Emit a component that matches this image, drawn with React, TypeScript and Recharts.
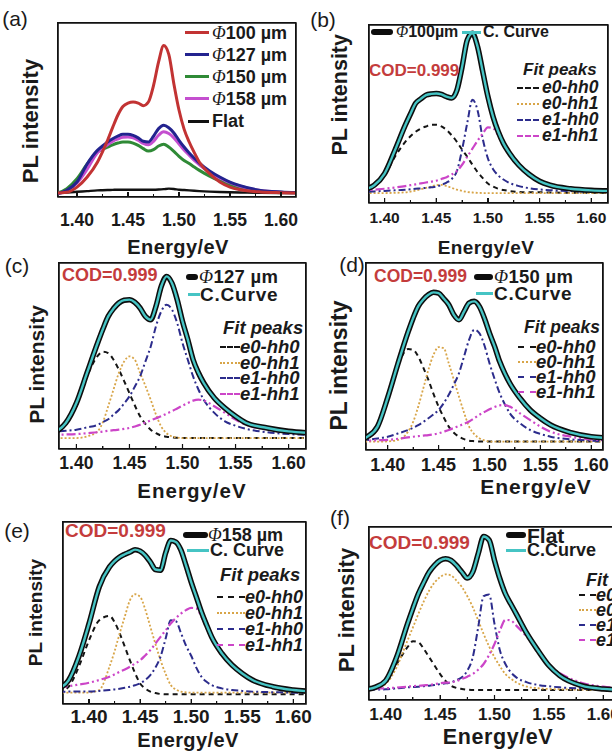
import React from 'react';
import { LineChart, Line, XAxis, YAxis, ReferenceArea, ReferenceLine } from 'recharts';

// photon energy grid (eV), shared by every panel
const ENERGY = [1.37, 1.38, 1.39, 1.40, 1.41, 1.42, 1.425, 1.43, 1.435, 1.44, 1.445, 1.45, 1.455, 1.46, 1.465, 1.47, 1.475, 1.48, 1.485, 1.49, 1.495, 1.50, 1.505, 1.51, 1.515, 1.52, 1.53, 1.54, 1.55, 1.56, 1.58, 1.60, 1.62];
const MAJOR_TICKS = [1.40, 1.45, 1.50, 1.55, 1.60];
const MINOR_TICKS = [1.425, 1.475, 1.525, 1.575];

// (a) PL spectra, arb. units (0-100 of the frame height)
const A_D100 = [2.3, 2.3, 2.7, 5.7, 11.5, 20, 26, 32.6, 40, 47, 52, 54, 54.6, 54, 52.5, 54.6, 64, 77.6, 87, 82, 65, 50, 39, 31.6, 25.5, 20, 13.4, 8.6, 5.7, 4.2, 2.9, 2.5, 2.3];
const A_D127 = [1.5, 1.9, 3.8, 8.6, 19, 26.8, 29.3, 31.6, 33.5, 35, 36, 36, 35.4, 34, 32, 31.6, 34.9, 39.3, 41.2, 39.8, 36.8, 32.6, 28.7, 25.3, 22.3, 19.5, 15, 11.5, 8.6, 6.5, 3.8, 2.9, 2.5];
const A_D150 = [1.8, 2.3, 4.8, 10.5, 19, 25.9, 27.4, 28.7, 30, 31, 31.6, 31.6, 31, 29.7, 27.8, 26.4, 27.2, 29.3, 30.3, 28.7, 26.2, 23.4, 21, 19.2, 17.2, 15.3, 12, 9.2, 7, 5.5, 3.6, 2.7, 2.3];
const A_D158 = [1.5, 1.9, 3.6, 8, 16, 25.5, 28, 30, 32, 33.3, 34.3, 34.5, 34, 32.6, 30.8, 30, 32, 35.5, 37.5, 36.5, 34, 30.5, 27, 24, 21, 18.5, 14.2, 11, 8.2, 6.2, 3.7, 2.8, 2.4];
const A_FLAT = [2.3, 2.3, 2.6, 3, 3.4, 3.8, 3.9, 4, 4.1, 4.2, 4.2, 4.2, 4.2, 4.2, 4.2, 4.2, 4.2, 4.3, 4.5, 4.8, 4.6, 4.2, 4, 3.8, 3.6, 3.4, 3.1, 2.9, 2.7, 2.6, 2.4, 2.3, 2.3];

// (b) 100 um
const B_DATA = [6.5, 7.5, 10, 16.5, 29.6, 43.7, 50, 56, 58.5, 60.6, 61.3, 61.5, 61, 59.7, 59, 63.4, 76.5, 91.6, 95.3, 87.8, 73.7, 59.7, 48.4, 40, 33.5, 28.7, 21.2, 16, 12.2, 10, 8, 7.1, 6.8];
const B_E0H0 = [6.5, 7.5, 10, 15.6, 26, 34.3, 37.5, 40, 41.8, 43, 44, 44, 43, 41, 38, 34.3, 30, 26, 21.5, 17.4, 14, 10.9, 9.2, 8, 7.3, 6.8, 6.2, 6, 6, 5.9, 5.8, 5.8, 5.8];
const B_E0H1 = [5.6, 5.6, 5.6, 5.6, 5.7, 6, 6.4, 7, 7.7, 8.5, 9.3, 10, 10.2, 9.5, 8.5, 7.5, 6.8, 6.2, 5.9, 5.7, 5.6, 5.6, 5.6, 5.6, 5.6, 5.6, 5.6, 5.6, 5.6, 5.6, 5.6, 5.6, 5.6];
const B_E1H0 = [6, 6.2, 6.5, 6.8, 7.1, 7.5, 7.7, 8, 8.2, 8.5, 8.8, 9.2, 10.2, 11.5, 13.5, 18, 30, 45, 58, 52, 36, 25, 19, 15.5, 13.2, 11.5, 9.5, 8.3, 7.6, 7.2, 6.7, 6.4, 6.2];
const B_E1H1 = [6.7, 7, 7.5, 8, 8.7, 9.5, 10, 10.5, 11, 11.5, 12, 12.5, 13.5, 14.5, 16, 18, 21.5, 26, 30.5, 35, 39, 42.5, 42, 38, 33, 28, 20.5, 15.5, 12, 10, 8, 7.1, 6.8];

// (c) 127 um
const C_DATA = [6.5, 9, 14, 24.7, 40.9, 57, 64.5, 71.3, 75.5, 78.5, 80, 80.3, 78.9, 75.8, 71.3, 69.5, 76.7, 87.5, 92.8, 89.2, 80.3, 68.6, 58.8, 48, 41, 35.5, 27.4, 22, 17.6, 14, 11.3, 9.5, 8.6];
const C_E0H0 = [6.5, 9, 14, 23, 39, 50, 52.3, 51.6, 48, 42.7, 36.5, 30, 23.5, 17.6, 13.5, 10.4, 8.5, 7.2, 6.6, 6.3, 6, 5.9, 5.9, 5.9, 5.9, 5.9, 5.9, 5.9, 5.9, 5.9, 5.9, 5.9, 5.9];
const C_E0H1 = [5.9, 5.9, 5.9, 5.9, 6.8, 9.5, 14.5, 23, 32, 40.9, 47, 49.8, 48, 40.9, 34, 26.5, 18.5, 12, 8.5, 6.8, 6.2, 5.9, 5.9, 5.9, 5.9, 5.9, 5.9, 5.9, 5.9, 5.9, 5.9, 5.9, 5.9];
const C_E1H0 = [9.2, 9.5, 9.8, 10.4, 11.6, 13, 14.5, 16, 18.5, 21, 24.5, 28.3, 33.5, 39, 47, 55, 66, 74, 77.6, 75, 67.7, 57, 48, 39, 32, 26.5, 19.4, 14.9, 12.5, 10.8, 9, 8, 7.5];
const C_E1H1 = [7.6, 7.7, 7.8, 8, 8.5, 9, 9.4, 9.8, 10.1, 10.4, 10.8, 11.3, 12.1, 13, 14.2, 15.4, 16.5, 17.6, 19, 20.3, 21.8, 23.3, 24.7, 26, 26.5, 26, 23, 19.4, 15.8, 13, 10.4, 9, 8];

// (d) 150 um
const D_DATA = [5, 7.1, 12.5, 28, 46, 63, 70.5, 76.8, 80.5, 83, 84.3, 83.9, 81, 77.7, 72.3, 69.6, 74, 78.6, 79.5, 76.8, 70.5, 62.5, 55.4, 47.3, 41, 35.7, 27.7, 21.4, 17, 13.4, 9.3, 7.1, 6.3];
const D_E0H0 = [5, 7, 14, 27, 45, 54, 53.6, 50, 44, 37.5, 30, 23.2, 17.5, 12.5, 9.2, 7.1, 5.8, 5, 4.7, 4.5, 4.5, 4.5, 4.5, 4.5, 4.5, 4.5, 4.5, 4.5, 4.5, 4.5, 4.5, 4.5, 4.5];
const D_E0H1 = [4.5, 4.5, 4.5, 4.6, 5.4, 9.8, 15, 23.2, 33, 42.9, 50.9, 55, 54.5, 46.4, 37.5, 28.6, 20, 12.5, 8.5, 6.3, 5.2, 4.5, 4.5, 4.5, 4.5, 4.5, 4.5, 4.5, 4.5, 4.5, 4.5, 4.5, 4.5];
const D_E1H0 = [5, 5.4, 6.2, 7.1, 8.8, 10.7, 11.9, 13.3, 15, 17, 19, 21.4, 25, 29.5, 35, 41, 50, 59, 64.3, 62.5, 56, 46.4, 38, 30.4, 24.5, 19.6, 14.3, 10.7, 8.6, 7.1, 5.7, 5, 4.5];
const D_E1H1 = [4.8, 5, 5.2, 5.4, 6, 6.8, 7.1, 7.4, 7.7, 8, 8.4, 8.9, 9.8, 10.7, 11.8, 12.9, 14, 15.2, 17, 18.8, 20.3, 21.8, 23, 23.9, 24, 23.2, 19.6, 16, 12.5, 9.8, 7.1, 5.7, 5];

// (e) 158 um
const E_DATA = [8.5, 13, 26, 44.2, 64.4, 75.3, 78.5, 80.8, 82.3, 83.5, 84.8, 84, 81.7, 78, 73.9, 73.5, 83, 89.8, 89, 84.5, 76, 67, 58.9, 50.6, 43.5, 36.9, 27.8, 21.4, 16.8, 13.2, 9.5, 7.7, 6.8];
const E_E0H0 = [6.5, 9.5, 20.5, 35, 46, 48.4, 45, 38.8, 31.5, 24, 17, 11.3, 8.5, 6.8, 6, 5.5, 5.3, 5.3, 5.3, 5.3, 5.3, 5.3, 5.3, 5.3, 5.3, 5.3, 5.3, 5.3, 5.3, 5.3, 5.3, 5.3, 5.3];
const E_E0H1 = [6.2, 6.2, 6.2, 6.3, 7.7, 20.5, 29, 38.8, 48, 57, 60.3, 58.9, 52, 42.4, 33, 24, 16.5, 10.4, 8, 6.8, 6.4, 6.2, 6.2, 6.2, 6.2, 6.2, 6.2, 6.2, 6.2, 6.2, 6.2, 6.2, 6.2];
const E_E1H0 = [6.6, 6.8, 6.8, 6.9, 7.2, 7.7, 8, 8.4, 8.9, 9.5, 10.3, 11.3, 13.2, 15.9, 20, 26, 36, 46, 45.5, 39, 32, 26.5, 20, 15, 12.2, 10.4, 8.6, 7.7, 7.2, 6.8, 6.5, 6.2, 6.1];
const E_E1H1 = [9.3, 9.8, 10.7, 11.7, 13.2, 15, 16.3, 17.7, 19, 20.5, 22.2, 24, 26.7, 29.6, 33.2, 36.9, 40.5, 44.2, 47.2, 49.7, 51.6, 52.8, 52.5, 48, 42, 36, 27, 21, 16.5, 13, 9.3, 7.5, 6.8];

// (f) flat
const F_DATA = [5.5, 6, 7.3, 11.2, 24.7, 44, 53, 61.4, 68, 74, 78, 80.7, 81.7, 80.7, 77.8, 74, 70.5, 74, 84.5, 94.5, 92.5, 80.7, 70, 61.4, 55.5, 49.8, 38.2, 28.6, 19.9, 14.1, 8.3, 6.4, 5.8];
const F_E0H0 = [5.8, 6, 7.3, 11.2, 20.8, 30.5, 34, 33.4, 29.5, 24.7, 19.8, 15, 11, 8.3, 7, 6.4, 6, 5.8, 5.8, 5.8, 5.8, 5.8, 5.8, 5.8, 5.8, 5.8, 5.8, 5.8, 5.8, 5.8, 5.8, 5.8, 5.8];
const F_E0H1 = [5.8, 5.8, 6.4, 9.3, 18.9, 34.4, 42, 49.8, 57, 63.3, 68, 71, 72.6, 72, 69, 65.3, 60, 53.7, 46, 38.2, 31, 24.7, 19.5, 15, 12.3, 10.2, 7.7, 6.8, 6.4, 6.2, 6, 5.8, 5.8];
const F_E1H0 = [5.8, 5.8, 6, 6.2, 6.7, 7.3, 7.5, 7.7, 8, 8.3, 8.7, 9.2, 9.7, 10.2, 11.5, 13.1, 17, 24.7, 42, 60, 61, 44, 28.6, 20.8, 16, 13.1, 10.2, 8.7, 7.9, 7.3, 6.6, 6.2, 6];
const F_E1H1 = [6.2, 6.4, 6.6, 6.8, 7.2, 7.7, 8, 8.2, 8.5, 8.7, 9.2, 9.7, 10, 10.2, 11, 12.2, 13.5, 15, 17.5, 20.8, 26, 32.4, 40.2, 46.3, 46, 43, 36.3, 28, 20, 15.5, 10, 7.7, 6.8];

const FONT = 'Liberation Sans, Arial, sans-serif';
const SERIF = 'Liberation Serif, DejaVu Serif, serif';
const INK = '#1a1a1a';
const COD_RED = '#c43c3c';
const CYAN = '#46c4c4';
const FIT = {
  e0h0: { stroke: '#151515', width: 2, dash: '5 4' },
  e0h1: { stroke: '#d8a548', width: 1.8, dash: '2 2' },
  e1h0: { stroke: '#2c2c8c', width: 2, dash: '7 3 2 3' },
  e1h1: { stroke: '#cc45c8', width: 2.2, dash: '9 3 2 3 2 3' },
};
const PAD = 6;

type Series = { id: string; values: number[]; stroke: string; width: number; dash?: string };
type Box = { x: number; y: number; w: number; h: number };

const Panel = ({ box, domain, series, tickFs, tickGap }: { box: Box; domain: [number, number]; series: Series[]; tickFs: number; tickGap: number }) => {
  const rows = ENERGY.map((e, i) => {
    const r: any = { e };
    series.forEach((s) => { r[s.id] = s.values[i]; });
    return r;
  });
  const W = Math.round(box.w + 2 * PAD);
  const H = Math.round(box.h + PAD + 40);
  const L = Math.round(box.x - PAD);
  const T = Math.round(box.y - PAD);
  const fw = W - 2 * PAD;
  const fh = H - PAD - 40;
  const majLen = (5 * 100) / fh;
  const minLen = (3 * 100) / fh;
  // same linear mapping as the x axis, for the CSS frame ticks
  const px = (t: number) => PAD + ((t - domain[0]) / (domain[1] - domain[0])) * fw;
  return (
    <div style={{ position: 'absolute', left: L, top: T }}>
      <LineChart width={W} height={H} data={rows} margin={{ top: PAD, right: PAD, bottom: 0, left: PAD }}>
        <XAxis dataKey="e" type="number" domain={domain} allowDataOverflow ticks={MAJOR_TICKS} interval={0}
          tickFormatter={(v) => v.toFixed(2)} height={40} tickLine={false} tickSize={0} tickMargin={tickGap}
          axisLine={false} tick={{ fontSize: tickFs, fontWeight: 700, fill: INK, fontFamily: FONT }} />
        <YAxis type="number" domain={[0, 100]} allowDataOverflow hide />
        {series.map((s) => (
          <Line key={s.id} dataKey={s.id} type="monotone" stroke={s.stroke} strokeWidth={s.width}
            strokeDasharray={s.dash} dot={false} activeDot={false} isAnimationActive={false} />
        ))}
        {MAJOR_TICKS.map((t) => (
          <ReferenceLine key={`M${t}`} segment={[{ x: t, y: 0 }, { x: t, y: majLen }]} stroke="#111" strokeWidth={1.2} ifOverflow="visible" />
        ))}
        {MINOR_TICKS.map((t) => (
          <ReferenceLine key={`m${t}`} segment={[{ x: t, y: 0 }, { x: t, y: minLen }]} stroke="#111" strokeWidth={1} ifOverflow="visible" />
        ))}
        <ReferenceArea x1={domain[0]} x2={domain[1]} y1={0} y2={100} fill="none" stroke="#111" strokeWidth={1.6} ifOverflow="visible" />
      </LineChart>
      <div style={{ position: 'absolute', left: PAD - 0.8, top: PAD - 0.8, width: fw - 1.6, height: fh - 1.6, border: '1.6px solid #111' }} />
      {MAJOR_TICKS.map((t) => (
        <div key={`cM${t}`} style={{ position: 'absolute', left: px(t) - 0.6, top: PAD + fh - 5, width: 1.2, height: 5, background: '#111' }} />
      ))}
      {MINOR_TICKS.map((t) => (
        <div key={`cm${t}`} style={{ position: 'absolute', left: px(t) - 0.5, top: PAD + fh - 3, width: 1, height: 3, background: '#111' }} />
      ))}
    </div>
  );
};

const Txt = ({ x, y, fs, children, bold = true, italic = false, color = INK, center = false, ls = 0 }: any) => (
  <div style={{
    position: 'absolute', left: center ? x - 150 : x, top: y - fs / 2, width: center ? 300 : undefined,
    textAlign: center ? 'center' : 'left', fontSize: fs, lineHeight: `${fs}px`, letterSpacing: ls, fontFamily: FONT,
    fontWeight: bold ? 700 : 400, fontStyle: italic ? 'italic' : 'normal', color, whiteSpace: 'nowrap',
  }}>{children}</div>
);

const VTxt = ({ x, y, fs }: { x: number; y: number; fs: number }) => (
  <div style={{
    position: 'absolute', left: x - 100, top: y - fs / 2, width: 200, textAlign: 'center', fontSize: fs, lineHeight: `${fs}px`,
    fontWeight: 700, fontFamily: FONT, color: INK, whiteSpace: 'nowrap', transform: 'rotate(-90deg)',
  }}>PL intensity</div>
);

const Swatch = ({ x, y, w, stroke, width, dash }: { x: number; y: number; w: number; stroke: string; width: number; dash?: string }) => (
  <div style={{ position: 'absolute', left: x, top: y - width / 2, width: w, height: 0, borderTop: `${width}px ${dash ? (dash.startsWith('2 ') ? 'dotted' : 'dashed') : 'solid'} ${stroke}`, borderRadius: width > 4 ? width / 2 : 0 }} />
);

const Phi = () => <span style={{ fontFamily: SERIF, fontStyle: 'italic', fontWeight: 400 }}>Φ</span>;

const fitSeries = (e0h0: number[], e0h1: number[], e1h0: number[], e1h1: number[]): Series[] => [
  { id: 'e0h0', values: e0h0, ...FIT.e0h0 },
  { id: 'e0h1', values: e0h1, ...FIT.e0h1 },
  { id: 'e1h0', values: e1h0, ...FIT.e1h0 },
  { id: 'e1h1', values: e1h1, ...FIT.e1h1 },
];
const dataSeries = (d: number[]): Series[] => [
  { id: 'meas', values: d, stroke: '#0d0d0d', width: 5.5 },
  { id: 'cfit', values: d, stroke: CYAN, width: 2.4 },
];

const FitLegend = ({ x, tx, w, fs, rows }: { x: number; tx: number; w: number; fs: number; rows: number[] }) => {
  const names = ['e0-hh0', 'e0-hh1', 'e1-hh0', 'e1-hh1'];
  const keys = ['e0h0', 'e0h1', 'e1h0', 'e1h1'] as const;
  return (
    <>
      {names.map((n, i) => (
        <React.Fragment key={n}>
          <Swatch x={x} y={rows[i]} w={w} stroke={FIT[keys[i]].stroke} width={2} dash={FIT[keys[i]].dash} />
          <Txt x={tx} y={rows[i]} fs={fs} italic>{n}</Txt>
        </React.Fragment>
      ))}
    </>
  );
};

export default function App() {
  return (
    <div style={{ position: 'absolute', left: 0, top: 0, width: 612, height: 754, overflow: 'hidden', background: '#fff' }}>
      {/* (a) */}
      <Panel box={{ x: 58.3, y: 22.7, w: 238.4, h: 174 }} domain={[1.3814, 1.6147]} tickFs={17.5} tickGap={17}
        series={[
          { id: 'flat', values: A_FLAT, stroke: '#111', width: 2.4 },
          { id: 'd150', values: A_D150, stroke: '#2f8a36', width: 3 },
          { id: 'd158', values: A_D158, stroke: '#c44fcf', width: 3 },
          { id: 'd127', values: A_D127, stroke: '#23238f', width: 3 },
          { id: 'd100', values: A_D100, stroke: '#c23333', width: 3 },
        ]} />
      <Txt x={15} y={18} fs={21} bold={false} center>(a)</Txt>
      <VTxt x={31} y={121} fs={22} />
      <Txt x={178} y={247} fs={20} ls={0.4} center>Energy/eV</Txt>
      <Swatch x={185} y={33} w={24} stroke="#c23333" width={3.5} />
      <Txt x={212} y={33} fs={18}><Phi />100 µm</Txt>
      <Swatch x={185} y={55} w={24} stroke="#23238f" width={3.5} />
      <Txt x={212} y={55} fs={18}><Phi />127 µm</Txt>
      <Swatch x={185} y={77} w={24} stroke="#2f8a36" width={3.5} />
      <Txt x={212} y={77} fs={18}><Phi />150 µm</Txt>
      <Swatch x={185} y={99} w={24} stroke="#c44fcf" width={3.5} />
      <Txt x={212} y={99} fs={18}><Phi />158 µm</Txt>
      <Swatch x={188} y={121} w={21} stroke="#111" width={3} />
      <Txt x={212} y={121} fs={18}>Flat</Txt>

      {/* (b) */}
      <Panel box={{ x: 368.7, y: 25, w: 239, h: 177.7 }} domain={[1.3849, 1.6162]} tickFs={15.5} tickGap={8.5}
        series={[...fitSeries(B_E0H0, B_E0H1, B_E1H0, B_E1H1), ...dataSeries(B_DATA)]} />
      <Txt x={323} y={19} fs={21} bold={false} center>(b)</Txt>
      <VTxt x={341} y={95} fs={21.5} />
      <Txt x={486} y={247} fs={19} ls={0.4} center>Energy/eV</Txt>
      <Swatch x={371} y={32} w={22} stroke="#0d0d0d" width={6} />
      <Txt x={396} y={32} fs={16}><Phi />100µm</Txt>
      <Swatch x={462} y={32} w={19} stroke={CYAN} width={3} />
      <Txt x={483} y={32} fs={16}>C. Curve</Txt>
      <Txt x={369} y={70} fs={17} color={COD_RED}>COD=0.999</Txt>
      <Txt x={523} y={69} fs={17} italic>Fit peaks</Txt>
      <FitLegend x={517} tx={542} w={22} fs={17.5} rows={[88, 104, 120, 136]} />

      {/* (c) */}
      <Panel box={{ x: 59.3, y: 263.3, w: 247.4, h: 186 }} domain={[1.3836, 1.6164]} tickFs={17.5} tickGap={7.5}
        series={[...fitSeries(C_E0H0, C_E0H1, C_E1H0, C_E1H1), ...dataSeries(C_DATA)]} />
      <Txt x={17} y={265} fs={21} bold={false} center>(c)</Txt>
      <VTxt x={36} y={364} fs={21} />
      <Txt x={192} y={491} fs={20.5} ls={1} center>Energy/eV</Txt>
      <Txt x={62} y={275} fs={18} color={COD_RED}>COD=0.999</Txt>
      <Swatch x={186} y={277} w={12} stroke="#0d0d0d" width={6} />
      <Txt x={199} y={277} fs={18.5} ls={0.3}><Phi />127 µm</Txt>
      <Swatch x={188} y={294} w={12} stroke={CYAN} width={3} />
      <Txt x={200} y={294} fs={19} ls={0.8}>C.Curve</Txt>
      <Txt x={223} y={328} fs={18.5} italic>Fit peaks</Txt>
      <FitLegend x={220} tx={240} w={20} fs={18.5} rows={[347, 363, 378, 394]} />

      {/* (d) */}
      <Panel box={{ x: 366, y: 263.3, w: 236.7, h: 186.7 }} domain={[1.3787, 1.6115]} tickFs={18} tickGap={8}
        series={[...fitSeries(D_E0H0, D_E0H1, D_E1H0, D_E1H1), ...dataSeries(D_DATA)]} />
      <Txt x={352} y={264} fs={21} bold={false} center>(d)</Txt>
      <VTxt x={339} y={365} fs={23} />
      <Txt x={536} y={486} fs={21} ls={1} center>Energy/eV</Txt>
      <Txt x={374} y={277} fs={17.5} color={COD_RED}>COD=0.999</Txt>
      <Swatch x={474} y={277} w={19} stroke="#0d0d0d" width={6} />
      <Txt x={494} y={277} fs={18.5} ls={0.3}><Phi />150 µm</Txt>
      <Swatch x={476} y={293} w={17} stroke={CYAN} width={3} />
      <Txt x={494} y={293} fs={19} ls={0.8}>C.Curve</Txt>
      <Txt x={524} y={328} fs={17.5} italic>Fit peaks</Txt>
      <FitLegend x={518} tx={536} w={18} fs={18.5} rows={[347, 362, 377, 392]} />

      {/* (e) */}
      <Panel box={{ x: 63.3, y: 521.7, w: 242.7, h: 182.3 }} domain={[1.3745, 1.6124]} tickFs={19} tickGap={5.5}
        series={[...fitSeries(E_E0H0, E_E0H1, E_E1H0, E_E1H1), ...dataSeries(E_DATA)]} />
      <Txt x={17} y={530} fs={21} bold={false} center>(e)</Txt>
      <VTxt x={35} y={612} fs={19} />
      <Txt x={188} y={740} fs={20} ls={0.4} center>Energy/eV</Txt>
      <Txt x={65} y={530} fs={19} color={COD_RED}>COD=0.999</Txt>
      <Swatch x={183} y={535} w={25} stroke="#0d0d0d" width={6} />
      <Txt x={208} y={535} fs={18}><Phi />158 µm</Txt>
      <Swatch x={187} y={550} w={22} stroke={CYAN} width={3} />
      <Txt x={210} y={550} fs={18}>C. Curve</Txt>
      <Txt x={220} y={575} fs={18.5} italic>Fit peaks</Txt>
      <FitLegend x={217} tx={245} w={28} fs={18} rows={[597, 613, 629, 645]} />

      {/* (f) */}
      <Panel box={{ x: 369.3, y: 526.7, w: 255.7, h: 172.6 }} domain={[1.3846, 1.62]} tickFs={17} tickGap={8}
        series={[...fitSeries(F_E0H0, F_E0H1, F_E1H0, F_E1H1), ...dataSeries(F_DATA)]} />
      <Txt x={340} y={517} fs={21} bold={false} center>(f)</Txt>
      <VTxt x={347} y={610} fs={22} />
      <Txt x={498} y={738} fs={21.5} ls={0.6} center>Energy/eV</Txt>
      <Txt x={369} y={542} fs={19} color={COD_RED}>COD=0.999</Txt>
      <Swatch x={506} y={535} w={20} stroke="#0d0d0d" width={6} />
      <Txt x={527} y={535} fs={21}>Flat</Txt>
      <Swatch x={506} y={550} w={20} stroke={CYAN} width={3} />
      <Txt x={527} y={550} fs={18}>C.Curve</Txt>
      <Txt x={586} y={580} fs={18} italic>Fit peaks</Txt>
      <FitLegend x={579} tx={596} w={17} fs={18} rows={[595, 610, 625, 640]} />
    </div>
  );
}
